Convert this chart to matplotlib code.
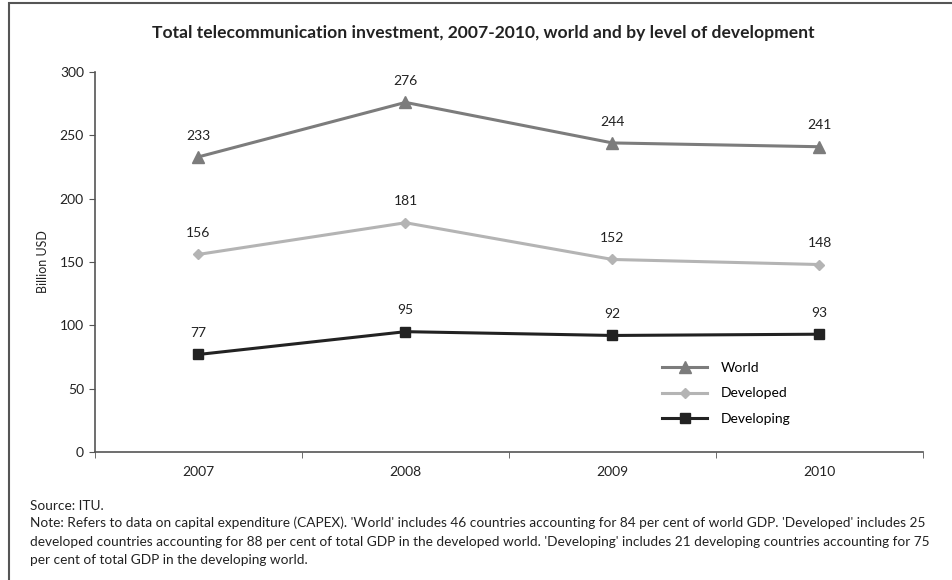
import matplotlib
matplotlib.use("Agg")
import matplotlib.pyplot as plt
from matplotlib.patches import Rectangle

years = ["2007", "2008", "2009", "2010"]
world = [233, 276, 244, 241]
developed = [156, 181, 152, 148]
developing = [77, 95, 92, 93]
yticks = [0, 50, 100, 150, 200, 250, 300]

plt.rcParams['font.family'] = ['Lato', 'DejaVu Sans']

fig = plt.figure(figsize=(9.53, 5.80), dpi=100)
ax = fig.add_axes([95/953, 1-452/580, (923-95)/953, (452-72)/580])

x = list(range(len(years)))
series = [
    ("World", world, "#7c7c7c", "^", 8),
    ("Developed", developed, "#b4b4b4", "D", 5.5),
    ("Developing", developing, "#222222", "s", 7.5),
]
for name, vals, col, mk, ms in series:
    ax.plot(x, vals, color=col, lw=2.2, marker=mk, ms=ms, label=name)
    for xi, v in zip(x, vals):
        ax.annotate(str(v), (xi, v), xytext=(0, 11), textcoords="offset points",
                    ha="center", va="bottom", fontsize=10, color="#222222")

ax.set_xlim(-0.5, len(years) - 0.5)
ax.set_ylim(0, 300)
ax.set_yticks(yticks)
ax.set_yticklabels([str(t) for t in yticks], fontsize=10, color="#222222")
ax.set_xticks(x)
ax.set_xticklabels(years, fontsize=10, color="#222222")
ax.tick_params(axis="x", length=0, pad=10)
ax.set_xticks([i - 0.5 for i in range(len(years) + 1)], minor=True)
ax.tick_params(axis="x", which="minor", length=4, direction="out", color="#555555")
ax.tick_params(axis="y", length=4, color="#555555", pad=4)
for s in ["top", "right"]:
    ax.spines[s].set_visible(False)
for s in ["left", "bottom"]:
    ax.spines[s].set_color("#555555")
    ax.spines[s].set_linewidth(1.2)
ax.set_ylabel("Billion USD", fontsize=9, color="#222222", labelpad=8)

leg = ax.legend(loc="upper left", bbox_to_anchor=((650-95)/828, (452-349)/380),
                frameon=False, fontsize=10, handlelength=3.2, labelspacing=1.0,
                handletextpad=1.0)

fig.text(0.507, 1-33/580, "Total telecommunication investment, 2007-2010, world and by level of development",
         ha="center", va="center", fontsize=12.6, fontweight="bold", color="#222222")

fig.text(30/953, 1-506/580, "Source: ITU.", fontsize=9.8, va="center", color="#222222")
notes = ["Note: Refers to data on capital expenditure (CAPEX). 'World' includes 46 countries accounting for 84 per cent of world GDP. 'Developed' includes 25",
         "developed countries accounting for 88 per cent of total GDP in the developed world. 'Developing' includes 21 developing countries accounting for 75",
         "per cent of total GDP in the developing world."]
for i, line in enumerate(notes):
    fig.text(30/953, 1-(523 + i*18.5)/580, line, fontsize=9.8, va="center", color="#222222")

fig.patches.append(Rectangle((9/953, -0.05), 1.0, 1-3/580 + 0.05, transform=fig.transFigure,
                             fill=False, edgecolor="#555555", lw=1.5))

fig.savefig("out.png", dpi=100)
